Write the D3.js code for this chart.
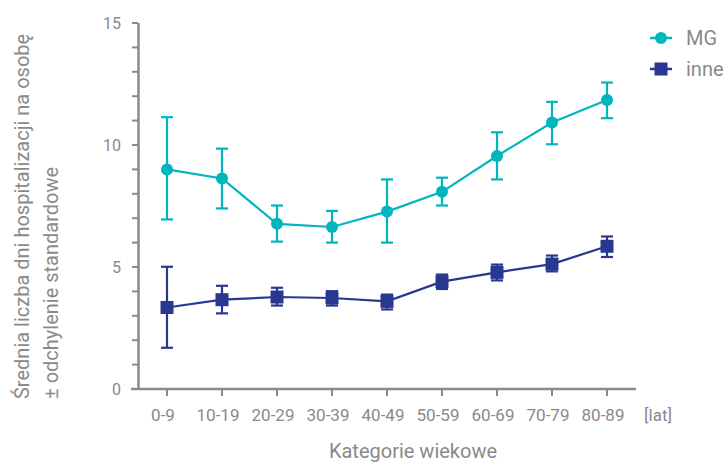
<!DOCTYPE html>
<html><head><meta charset="utf-8">
<script src="https://cdnjs.cloudflare.com/ajax/libs/d3/7.8.5/d3.min.js"></script>
<style>body{margin:0;background:#fff}svg{display:block}text{font-family:Roboto,"Noto Sans",sans-serif}</style>
</head><body>
<script>
const categories = ["0-9","10-19","20-29","30-39","40-49","50-59","60-69","70-79","80-89"];
const mgMean = [9.0, 8.63, 6.77, 6.64, 7.27, 8.08, 9.55, 10.92, 11.84];
const mgLow  = [6.95, 7.4, 6.04, 6.0, 6.0, 7.52, 8.59, 10.03, 11.1];
const mgHigh = [11.14, 9.85, 7.52, 7.3, 8.59, 8.66, 10.52, 11.77, 12.56];
const inMean = [3.34, 3.66, 3.77, 3.73, 3.59, 4.4, 4.78, 5.12, 5.85];
const inLow  = [1.69, 3.1, 3.42, 3.42, 3.26, 4.1, 4.45, 4.82, 5.41];
const inHigh = [5.01, 4.23, 4.15, 4.01, 3.87, 4.69, 5.1, 5.47, 6.25];
const yTicks = [0, 5, 10, 15];
const seriesNames = ["MG", "inne"];

const W = 724, H = 464;
const svg = d3.select("body").append("svg").attr("width", W).attr("height", H);
const gray = "#8a8a8a";
const cMG = "#00b6be", cIn = "#283891";

const x = d3.scalePoint().domain(categories).range([167, 607]);
const y = d3.scaleLinear().domain([0, 15]).range([389, 23]);

// axes
svg.append("line").attr("x1", 138.5).attr("x2", 138.5).attr("y1", y(15)).attr("y2", y(0)).attr("stroke", gray).attr("stroke-width", 2.5);
svg.append("line").attr("x1", 131).attr("x2", 636).attr("y1", y(0)).attr("y2", y(0)).attr("stroke", gray).attr("stroke-width", 2.5);
d3.range(0, 16).forEach(v => {
  svg.append("line").attr("x1", 132).attr("x2", 138).attr("y1", y(v)).attr("y2", y(v)).attr("stroke", gray).attr("stroke-width", 2);
});
yTicks.forEach(v => {
  svg.append("text").attr("x", 121).attr("y", y(v) + 5.5).attr("text-anchor", "end").attr("fill", gray).attr("font-size", 16).text(v);
});
categories.forEach(c => {
  svg.append("line").attr("x1", x(c)).attr("x2", x(c)).attr("y1", y(0)).attr("y2", y(0) + 7).attr("stroke", gray).attr("stroke-width", 2);
  svg.append("text").attr("x", x(c) - 4).attr("y", 421).attr("text-anchor", "middle").attr("fill", gray).attr("font-size", 17).text(c);
});
svg.append("text").attr("x", 658).attr("y", 421).attr("text-anchor", "middle").attr("fill", gray).attr("font-size", 17).text("[lat]");
svg.append("text").attr("x", 413).attr("y", 458).attr("text-anchor", "middle").attr("fill", gray).attr("font-size", 20).text("Kategorie wiekowe");
const yt = svg.append("text").attr("transform", "translate(0,399) rotate(-90)").attr("text-anchor", "start").attr("fill", gray).attr("font-size", 20);
yt.append("tspan").attr("x", 0).attr("y", 29).text("Średnia liczba dni hospitalizacji na osobę");
yt.append("tspan").attr("x", 0).attr("y", 58).text("± odchylenie standardowe");

function drawSeries(mean, low, high, color, shape) {
  const line = d3.line().x((d, i) => x(categories[i])).y(d => y(d));
  svg.append("path").attr("d", line(mean)).attr("fill", "none").attr("stroke", color).attr("stroke-width", 2.2);
  categories.forEach((c, i) => {
    const g = svg.append("g").attr("stroke", color).attr("stroke-width", 2.2);
    g.append("line").attr("x1", x(c)).attr("x2", x(c)).attr("y1", y(low[i])).attr("y2", y(high[i]));
    g.append("line").attr("x1", x(c) - 6).attr("x2", x(c) + 6).attr("y1", y(low[i])).attr("y2", y(low[i]));
    g.append("line").attr("x1", x(c) - 6).attr("x2", x(c) + 6).attr("y1", y(high[i])).attr("y2", y(high[i]));
    if (shape === "circle") svg.append("circle").attr("cx", x(c)).attr("cy", y(mean[i])).attr("r", 6).attr("fill", color);
    else svg.append("rect").attr("x", x(c) - 6.5).attr("y", y(mean[i]) - 6.5).attr("width", 13).attr("height", 13).attr("fill", color);
  });
}
drawSeries(mgMean, mgLow, mgHigh, cMG, "circle");
drawSeries(inMean, inLow, inHigh, cIn, "rect");

// legend
[[seriesNames[0], cMG, "circle", 38, 45], [seriesNames[1], cIn, "rect", 69, 76]].forEach(([n, c, s, ly, by]) => {
  svg.append("line").attr("x1", 650).attr("x2", 672).attr("y1", ly).attr("y2", ly).attr("stroke", c).attr("stroke-width", 2.5);
  if (s === "circle") svg.append("circle").attr("cx", 661).attr("cy", ly).attr("r", 6).attr("fill", c);
  else svg.append("rect").attr("x", 654.5).attr("y", ly - 6.5).attr("width", 13).attr("height", 13).attr("fill", c);
  svg.append("text").attr("x", 686).attr("y", by).attr("fill", gray).attr("font-size", 20).text(n);
});
</script>
</body></html>
